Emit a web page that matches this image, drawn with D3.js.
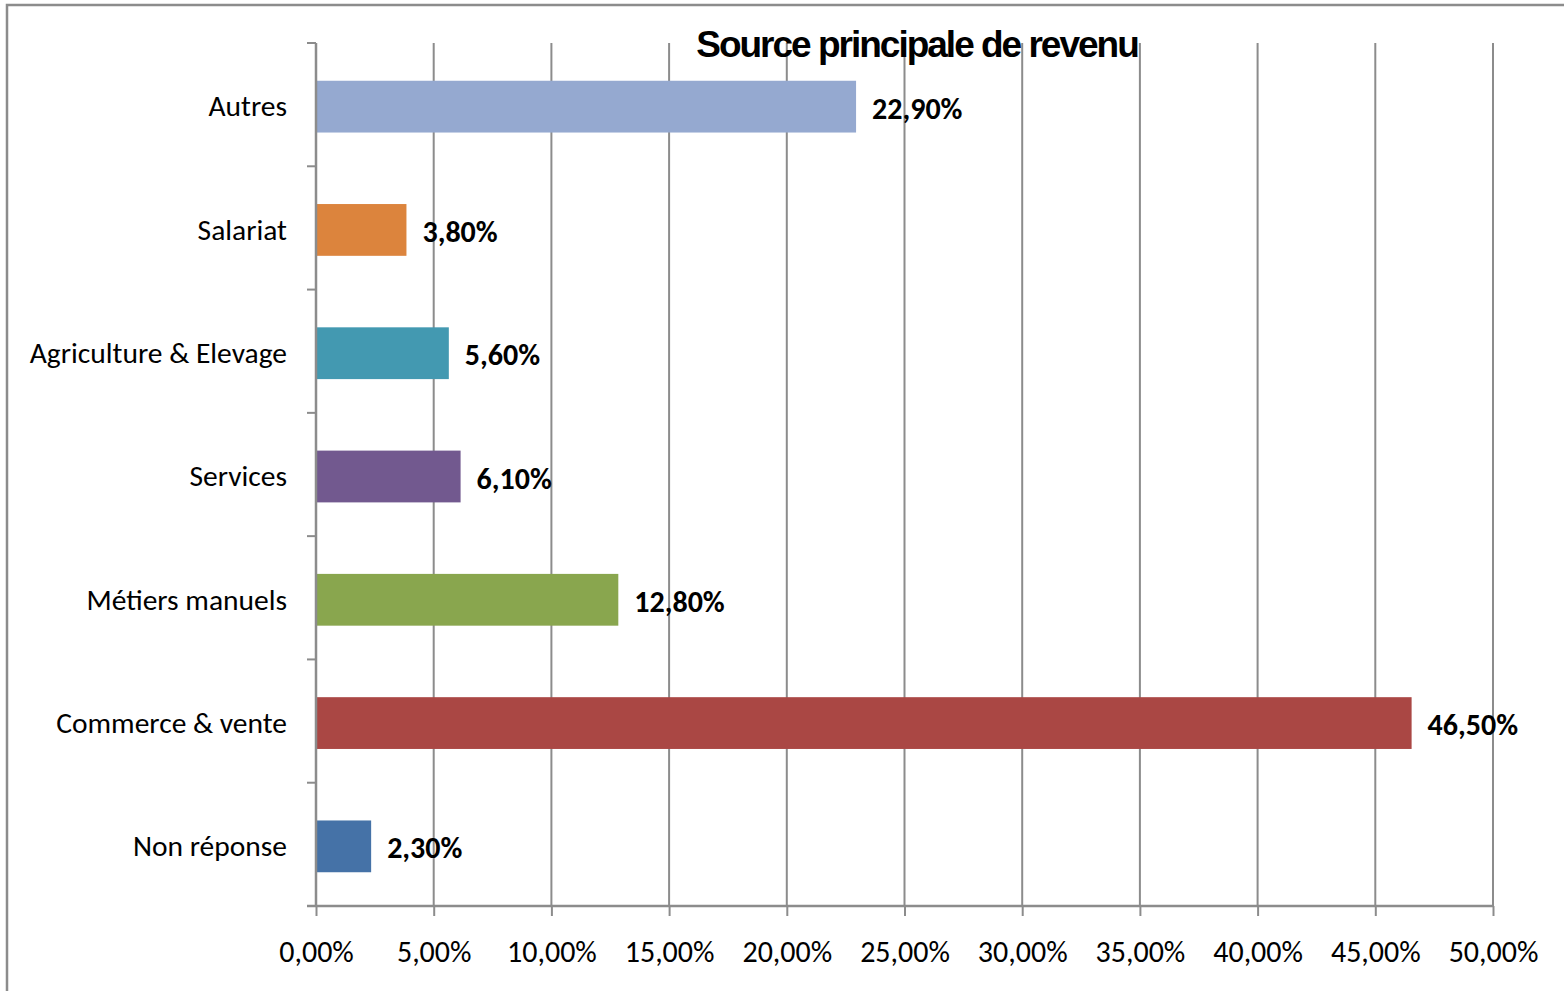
<!DOCTYPE html>
<html>
<head>
<meta charset="utf-8">
<script src="https://cdn.jsdelivr.net/npm/d3@7"></script>
<style>
  html, body { margin: 0; padding: 0; background: #fff; }
  svg { display: block; }
</style>
</head>
<body>
<svg id="chart" width="1564" height="991"></svg>
<script>
// data, top to bottom as shown
var categories = ["Autres", "Salariat", "Agriculture & Elevage", "Services", "Métiers manuels", "Commerce & vente", "Non réponse"];
var values = [22.9, 3.8, 5.6, 6.1, 12.8, 46.5, 2.3];
var colors = ["#95a9d0", "#dc843d", "#4399b1", "#72598f", "#89a64e", "#aa4744", "#4572a7"];
var xTicks = [0, 5, 10, 15, 20, 25, 30, 35, 40, 45, 50];
var title = "Source principale de revenu";

var labelFont = "Carlito, Lato, 'Open Sans', sans-serif";
var gridColor = "#8c8c8c";

var svg = d3.select("#chart");

// outer chart border (only top/left visible in the picture)
svg.append("rect")
    .attr("x", 7).attr("y", 5)
    .attr("width", 1600).attr("height", 1000)
    .attr("fill", "none")
    .attr("stroke", gridColor)
    .attr("stroke-width", 2.5);

var plotL = 316, plotR = 1493, plotT = 43, plotB = 906;

var x = d3.scaleLinear().domain([0, 50]).range([plotL, plotR]);
var y = d3.scaleBand().domain(categories).range([plotT + 2, plotB + 2]).paddingInner(0.58).paddingOuter(0.29);

var g = svg.append("g");

// vertical gridlines
g.append("g").selectAll("line")
    .data(xTicks.slice(1))
    .enter().append("line")
    .attr("x1", function(d) { return x(d); })
    .attr("x2", function(d) { return x(d); })
    .attr("y1", plotT).attr("y2", plotB)
    .attr("stroke", gridColor).attr("stroke-width", 2);

// bars
g.append("g").selectAll("rect")
    .data(categories)
    .enter().append("rect")
    .attr("x", x(0) + 1)
    .attr("y", function(d) { return y(d); })
    .attr("width", function(d, i) { return x(values[i]) - x(0); })
    .attr("height", y.bandwidth())
    .attr("fill", function(d, i) { return colors[i]; });

// x axis
var xAxis = d3.axisBottom(x)
    .tickValues(xTicks)
    .tickSize(10)
    .tickPadding(25)
    .tickFormat(function(d) { return d3.format(".2f")(d).replace(".", ",") + "%"; });

var gx = svg.append("g")
    .attr("transform", "translate(0," + plotB + ")")
    .call(xAxis);
gx.select(".domain").attr("d", "M" + (plotL - 9) + ",0H" + plotR).attr("stroke", gridColor).attr("stroke-width", 2.5);
gx.selectAll(".tick line").attr("stroke", gridColor).attr("stroke-width", 2);
gx.selectAll(".tick text")
    .attr("fill", "#000")
    .style("font-family", labelFont)
    .style("font-size", "30px");

// y axis: ticks between categories, labels centred on bands
var yTickPos = d3.range(categories.length + 1).map(function(i) { return plotT + i * (plotB - plotT) / categories.length; });
var gy = svg.append("g");
gy.append("line")
    .attr("x1", plotL).attr("x2", plotL)
    .attr("y1", plotT).attr("y2", plotB)
    .attr("stroke", gridColor).attr("stroke-width", 2.5);
gy.selectAll("line.tk")
    .data(yTickPos)
    .enter().append("line").attr("class", "tk")
    .attr("x1", plotL - 9).attr("x2", plotL)
    .attr("y1", function(d) { return d; })
    .attr("y2", function(d) { return d; })
    .attr("stroke", gridColor).attr("stroke-width", 2);
gy.selectAll("text")
    .data(categories)
    .enter().append("text")
    .attr("x", 287)
    .attr("y", function(d) { return y(d) + y.bandwidth() / 2; })
    .attr("dy", "0.33em")
    .attr("text-anchor", "end")
    .style("font-family", labelFont)
    .style("font-size", "29.5px")
    .text(function(d) { return d; });

// value labels
g.append("g").selectAll("text")
    .data(categories)
    .enter().append("text")
    .attr("x", function(d, i) { return x(values[i]) + 17; })
    .attr("y", function(d) { return y(d) + y.bandwidth() / 2; })
    .attr("dy", "0.4em")
    .style("font-family", labelFont)
    .style("font-size", "30px")
    .style("font-weight", "bold")
    .text(function(d, i) { return d3.format(".2f")(values[i]).replace(".", ",") + "%"; });

// title
svg.append("text")
    .attr("x", 917)
    .attr("y", 57)
    .attr("text-anchor", "middle")
    .style("font-family", "'Liberation Sans Narrow', 'Arial Narrow', sans-serif")
    .style("font-size", "37px")
    .style("font-weight", "bold")
    .style("letter-spacing", "-2px")
    .text(title);
</script>
</body>
</html>
